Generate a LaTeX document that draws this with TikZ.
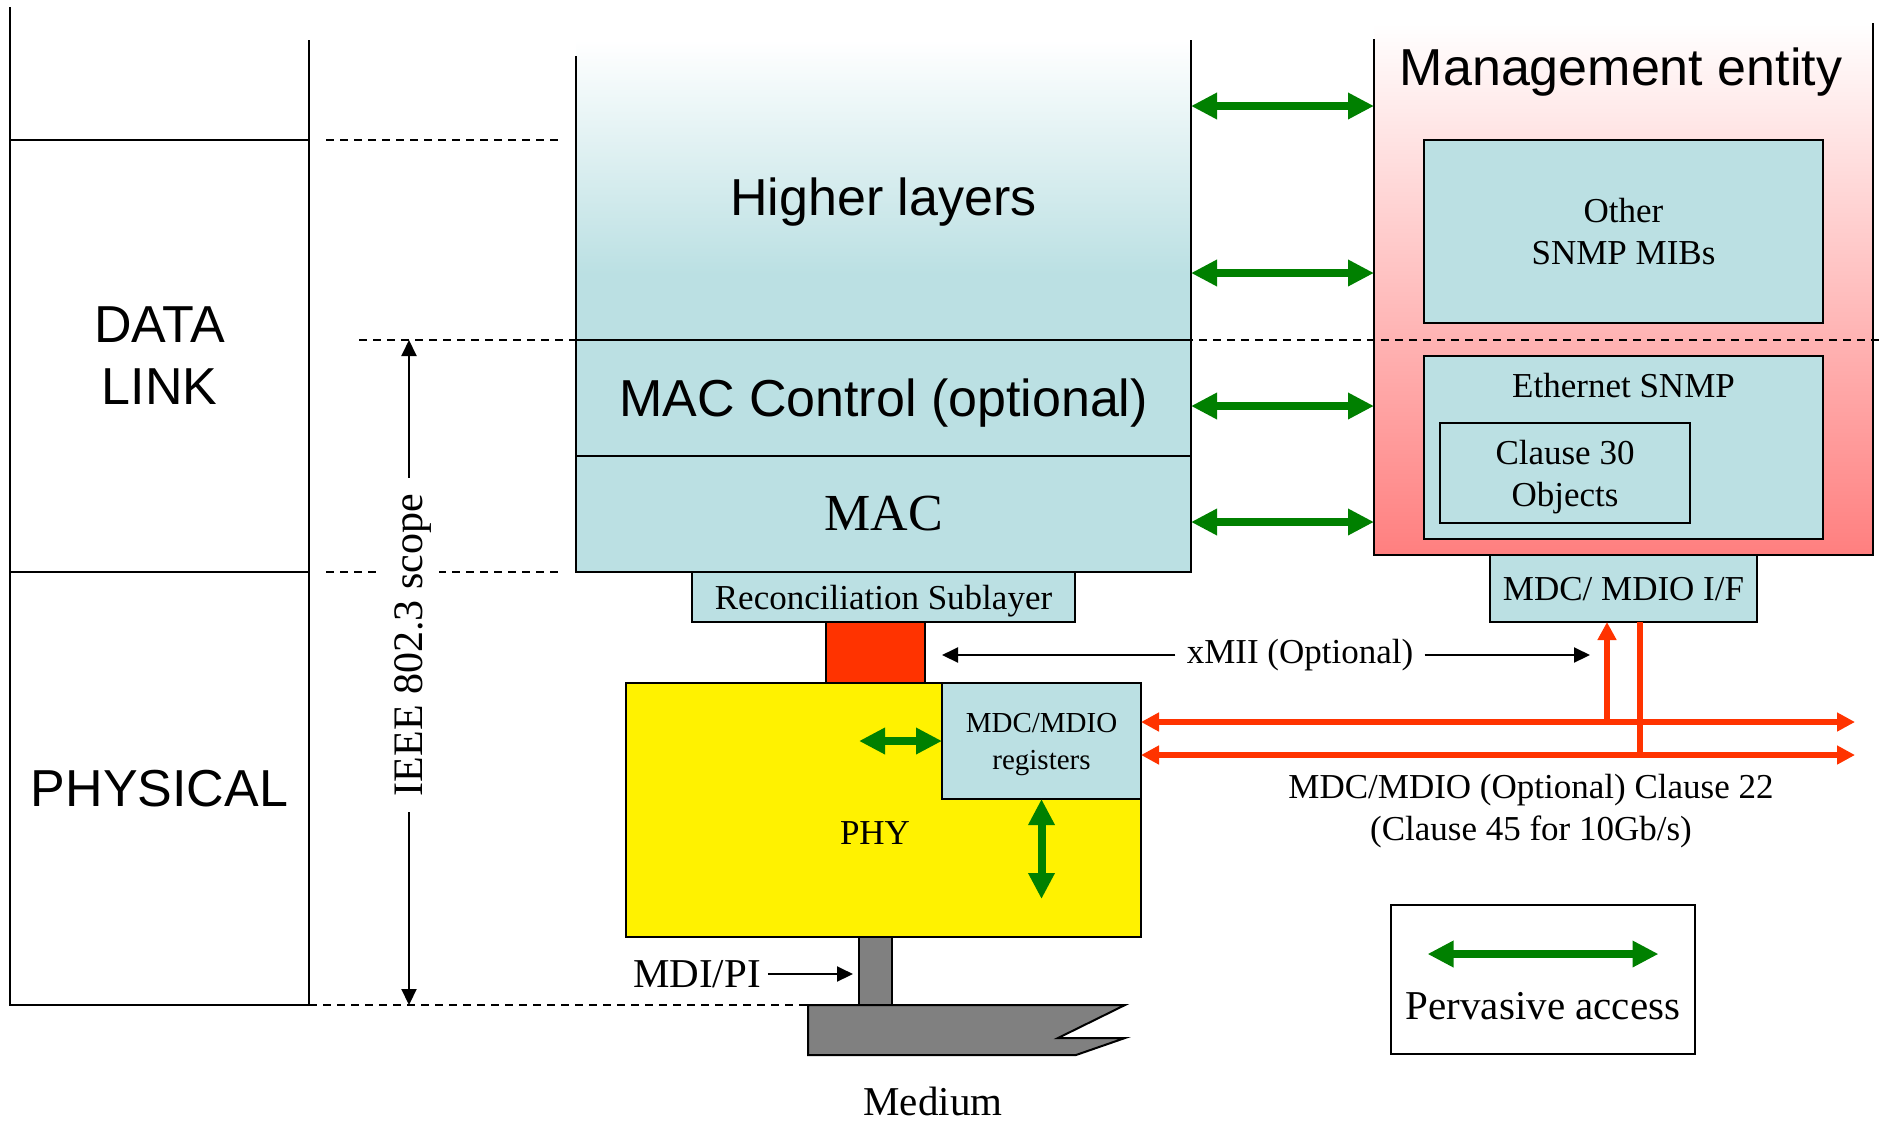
\documentclass[tikz,border=0pt]{standalone}
\usepackage{fontspec}
\setmainfont{Liberation Serif}
\setsansfont{Liberation Sans}
\usetikzlibrary{arrows.meta,positioning}

\definecolor{layerblue}{HTML}{BBE0E3}
\definecolor{mgmtred}{HTML}{FF7F7F}
\definecolor{pgreen}{HTML}{008000}
\definecolor{busred}{HTML}{FF3300}
\definecolor{medgray}{HTML}{808080}

\pgfdeclareverticalshading{hlshade}{100bp}{color(0bp)=(layerblue); color(36bp)=(layerblue); color(75bp)=(white); color(100bp)=(white)}

\tikzset{
  box/.style={draw, line width=1pt, inner sep=0pt, outer sep=0pt},
  layerbox/.style={box, fill=layerblue},
  sanstext/.style={font=\sffamily\fontsize{26}{31}\selectfont, align=center},
  midtext/.style={font=\fontsize{17.5}{21}\selectfont, align=center},
  bigtext/.style={font=\fontsize{20.5}{24}\selectfont},
  dashline/.style={line width=1pt, dash pattern=on 4pt off 3pt},
  pointer/.style={line width=1pt, >={Triangle[length=8pt,width=7.5pt]}},
  pervasive/.style={draw=pgreen, line width=4pt, <->, >={Triangle[length=13pt,width=12.5pt]}},
  bus/.style={draw=busred, line width=3pt, >={Triangle[length=9pt,width=9pt]}},
}

\begin{document}
\begin{tikzpicture}[x=0.5pt,y=-0.5pt]
\useasboundingbox (0,0) rectangle (1884,1121);

\node[box, minimum width=149.5pt, minimum height=216pt, sanstext] (dl) at (159.5,356) {DATA\\LINK};
\node[box, minimum width=149.5pt, minimum height=216.5pt, sanstext, below=0pt of dl] (ph) {PHYSICAL};
\draw[line width=1pt] (dl.north west) -- ++(0,-133);
\draw[line width=1pt] (dl.north east) -- ++(0,-100);

\node[shade, shading=hlshade, minimum width=307.5pt, minimum height=150pt, inner sep=0pt, outer sep=0pt] (hl) at (883.5,190) {};
\node[shade, top color=white, bottom color=mgmtred, minimum width=249.5pt, minimum height=266pt, inner sep=0pt, outer sep=0pt] (mgmt) at (1623.5,289) {};

\draw[dashline] (326,140) -- (559,140);
\draw[dashline] (359,340) -- (1884,340);
\draw[dashline] (326,572) -- (559,572);
\draw[dashline] (309,1005) -- (808,1005);

\node[layerbox, minimum width=307.5pt, minimum height=58pt, sanstext, text depth=0pt, below=0pt of hl] (macc) {MAC Control (optional)};
\node[layerbox, minimum width=307.5pt, minimum height=58pt, font=\fontsize{26}{31}\selectfont, below=0pt of macc] (mac) {MAC};
\draw[line width=1pt] ([yshift=-8pt]hl.north west) -- (macc.north west);
\draw[line width=1pt] (hl.north east) -- (macc.north east);
\node[sanstext] (hltxt) at (883.5,202.5) {Higher layers};

\node[layerbox, minimum width=191.5pt, minimum height=25pt, midtext, text depth=0pt, below=0pt of mac] (rs) {Reconciliation Sublayer};
\node[box, fill=busred, minimum width=49.5pt, minimum height=30.5pt, below=0pt of rs, xshift=-4pt] (mii) {};
\node[box, fill=yellow, minimum width=257.5pt, minimum height=127pt] (phy) at (883.5,810) {};
\node[midtext] (phytxt) at (875,833) {PHY};
\node[layerbox, minimum width=99.5pt, minimum height=58pt, font=\fontsize{14.5}{18.5}\selectfont, align=center, text depth=0pt] (regs) at (1041.5,741) {MDC/MDIO\\registers};
\node[box, fill=medgray, minimum width=16.5pt, minimum height=34pt, below=0pt of phy, xshift=-4pt] (stem) {};
\draw[line width=1pt, fill=medgray] (808,1005) -- (1125,1005) -- (1058,1038) -- (1125,1038) -- (1076,1055) -- (808,1055) -- cycle;
\node[bigtext] (medtxt) at (933,1101) {Medium};
\node[bigtext] (mdipi) at (697,974) {MDI/PI};
\draw[pointer, ->, shorten >=3pt] (mdipi.east) -- (stem.west |- mdipi.east);

\node[font=\fontsize{21}{25}\selectfont, rotate=90, fill=white, inner sep=8pt, text depth=0pt] (scope) at (409,645) {IEEE 802.3 scope};
\draw[pointer, ->] (scope.east) -- (scope.east |- macc.north);
\draw[pointer, ->] (scope.west) -- (scope.west |- ph.south);

\draw[line width=1pt] ([yshift=-8pt]mgmt.north west) -- (mgmt.south west) -- (mgmt.south east) -- (mgmt.north east);
\node[sanstext] (mgtxt) at (1621,72.5) {Management entity};
\node[layerbox, minimum width=199.5pt, minimum height=91.5pt, midtext] (mibs) at (1623.5,231.5) {Other\\SNMP MIBs};
\node[layerbox, minimum width=199.5pt, minimum height=91.5pt] (esn) at (1623.5,447.5) {};
\node[midtext] (esntxt) at (1623.5,386) {Ethernet SNMP};
\node[layerbox, minimum width=125pt, minimum height=50pt, midtext, text depth=0pt] (cl30) at (1565,473) {Clause 30\\Objects};
\node[layerbox, minimum width=133.5pt, minimum height=33.5pt, midtext, text depth=0pt, below=0pt of mgmt] (mdcif) {MDC/ MDIO I/F};

\foreach \y in {106,273,406,522}
  \draw[pervasive] (hl.east |- 0,\y) -- (mgmt.west |- 0,\y);
\draw[pervasive] ([xshift=-41.5pt]regs.west) -- (regs.west);
\draw[pervasive] (regs.south) -- ++(0,100);

\node[midtext, inner sep=5.5pt] (xmii) at (1300,655) {xMII (Optional)};
\coordinate (xend) at (1590,655);
\draw[pointer, ->] (xmii.west) -- (regs.west |- xmii.west);
\draw[pointer, ->] (xmii.east) -- (xend);

\coordinate (busa) at (1855,722);
\coordinate (busb) at (1855,755);
\coordinate (upb) at ([xshift=-8.25pt]mdcif.south);
\coordinate (dnb) at ([xshift=8.25pt]mdcif.south);
\draw[bus, <->] (regs.east |- busa) -- (busa);
\draw[bus, <->] (regs.east |- busb) -- (busb);
\draw[bus, ->] (upb |- busa) -- (upb);
\draw[bus] (dnb) -- (dnb |- busb);
\node[midtext] (c22) at (1531,811) {MDC/MDIO (Optional) Clause 22\\(Clause 45 for 10Gb/s)};

\node[box, minimum width=152pt, minimum height=74.5pt] (pa) at (1543,979.5) {};
\draw[pervasive] ([shift={(-57.75pt,12.75pt)}]pa.center) -- ([shift={(57.75pt,12.75pt)}]pa.center);
\node[bigtext] (patxt) at ([yshift=-13.25pt]pa.center) {Pervasive access};
\end{tikzpicture}
\end{document}
